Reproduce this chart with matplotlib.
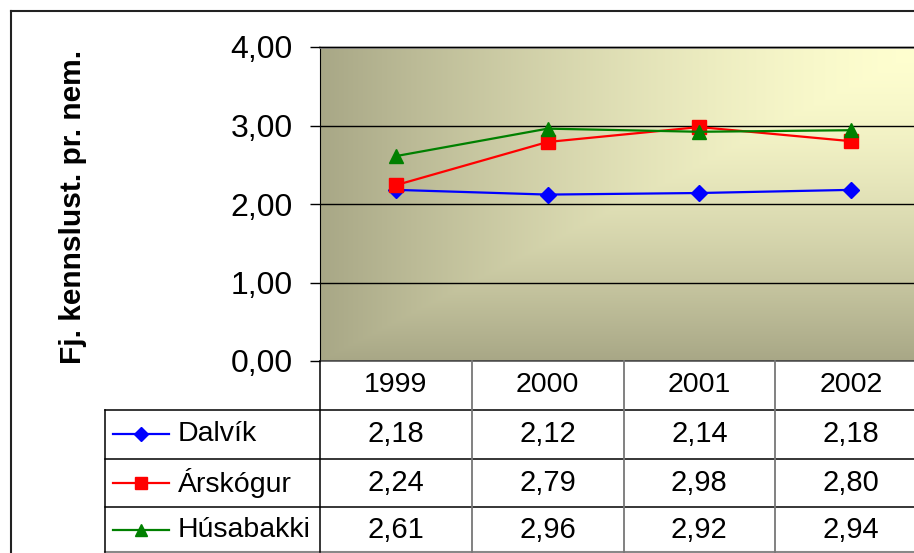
import numpy as np
import matplotlib
matplotlib.use("Agg")
import matplotlib.pyplot as plt
from matplotlib import transforms

plt.rcParams['font.family'] = ['Liberation Sans', 'DejaVu Sans']

# gögn
years = ['1999', '2000', '2001', '2002']
names = ['Dalvík', 'Árskógur', 'Húsabakki']
dalvik = [2.18, 2.12, 2.14, 2.18]
arskogur = [2.24, 2.79, 2.98, 2.80]
husabakki = [2.61, 2.96, 2.92, 2.94]
series = [dalvik, arskogur, husabakki]
colors = ['#0000FF', '#FF0000', '#008000']
markers = ['D', 's', '^']
msizes = [8, 10, 10]
yticks = [0, 1, 2, 3, 4]

W, H = 914, 553
fig = plt.figure(figsize=(W / 100, H / 100), dpi=100)

def fx(px):
    return px / W

def fy(py):
    return 1 - py / H

def komma(val):
    return ('%.2f' % val).replace('.', ',')

# teikniflötur (nær aðeins út fyrir hægri brún eins og í frumriti)
ax = fig.add_axes([fx(320), fy(361), (927 - 320) / W, (361 - 47) / H])
ax.set_xlim(-0.5, 3.5)
ax.set_ylim(0, 4)

# litabrigði frá efra hægra horni
nx, ny = 600, 320
u = np.linspace(0, 1, nx)[None, :]
v = np.linspace(0, 1, ny)[:, None]
t = np.maximum(1 - u, v) ** 1.5
light = np.array([255, 255, 208]) / 255
dark = np.array([168, 167, 134]) / 255
img = light[None, None, :] * (1 - t[..., None]) + dark[None, None, :] * t[..., None]
ax.imshow(img, extent=[-0.5, 3.5, 0, 4], aspect='auto', zorder=0, interpolation='bilinear')

x = np.arange(len(years))
for vals, c, m, ms in zip(series, colors, markers, msizes):
    ax.plot(x, vals, color=c, lw=1.6, marker=m, ms=ms, mec=c, mfc=c, zorder=3)

ax.set_yticks(yticks)
ax.set_yticklabels([komma(y_) for y_ in yticks], fontsize=23)
ax.set_xticks([])
ax.tick_params(axis='y', direction='out', length=7.5, width=1, color='black', pad=12)
ax.yaxis.grid(True, color='black', lw=1)
ax.set_axisbelow(False)
for gl in ax.yaxis.get_gridlines():
    gl.set_zorder(2)
ax.spines['right'].set_visible(False)
ax.spines['top'].set_color('#999999')
ax.spines['top'].set_linewidth(2)
ax.spines['left'].set_color('black')
ax.spines['bottom'].set_color('#555555')
ax.spines['bottom'].set_linewidth(1.2)

fig.text(fx(73), fy(207), 'Fj. kennslust. pr. nem.', rotation=90, fontsize=21.5,
         fontweight='bold', ha='center', va='center')

# tafla undir grafinu, í pixlahnitum
tab = fig.add_axes([0, 0, 1, 1], zorder=5)
tab.set_xlim(0, W)
tab.set_ylim(H, 0)
tab.axis('off')
tab.patch.set_alpha(0)
bt = transforms.blended_transform_factory(ax.transData, tab.transData)

# ytri rammi
tab.plot([11, 11], [10.5, H], color='#222222', lw=1.5, clip_on=False)
tab.plot([11, W], [10.5, 10.5], color='#222222', lw=1.5, clip_on=False)

row_lines = [410, 459, 507]
for yy in row_lines:
    tab.plot([105, W], [yy, yy], color='black', lw=1.1, clip_on=False)
tab.plot([105, W], [552, 552], color='#888888', lw=1.5, clip_on=False)
tab.plot([105, 105], [410, 552], color='black', lw=1.1, clip_on=False)
tab.plot([-0.5, -0.5], [361, 552], color='black', lw=1.1, transform=bt, clip_on=False)
for xb in [0.5, 1.5, 2.5]:
    tab.plot([xb, xb], [361, 552], color='#777777', lw=1.3, transform=bt, clip_on=False)

for i, yr in enumerate(years):
    tab.text(i, 385, yr, ha='center', va='center', fontsize=20.5, transform=bt)

row_y = [434, 483, 530]
for name, vals, c, m, ms, ry in zip(names, series, colors, markers, msizes, row_y):
    tab.plot([113, 169], [ry, ry], color=c, lw=1.6, clip_on=False)
    tab.plot([141], [ry], color=c, marker=m, ms=ms * 0.85, clip_on=False)
    tab.text(178, ry, name, ha='left', va='center', fontsize=20.5)
    for i, val in enumerate(vals):
        tab.text(i, ry, komma(val), ha='center', va='center', fontsize=21, transform=bt)

fig.savefig('out.png', dpi=100)
